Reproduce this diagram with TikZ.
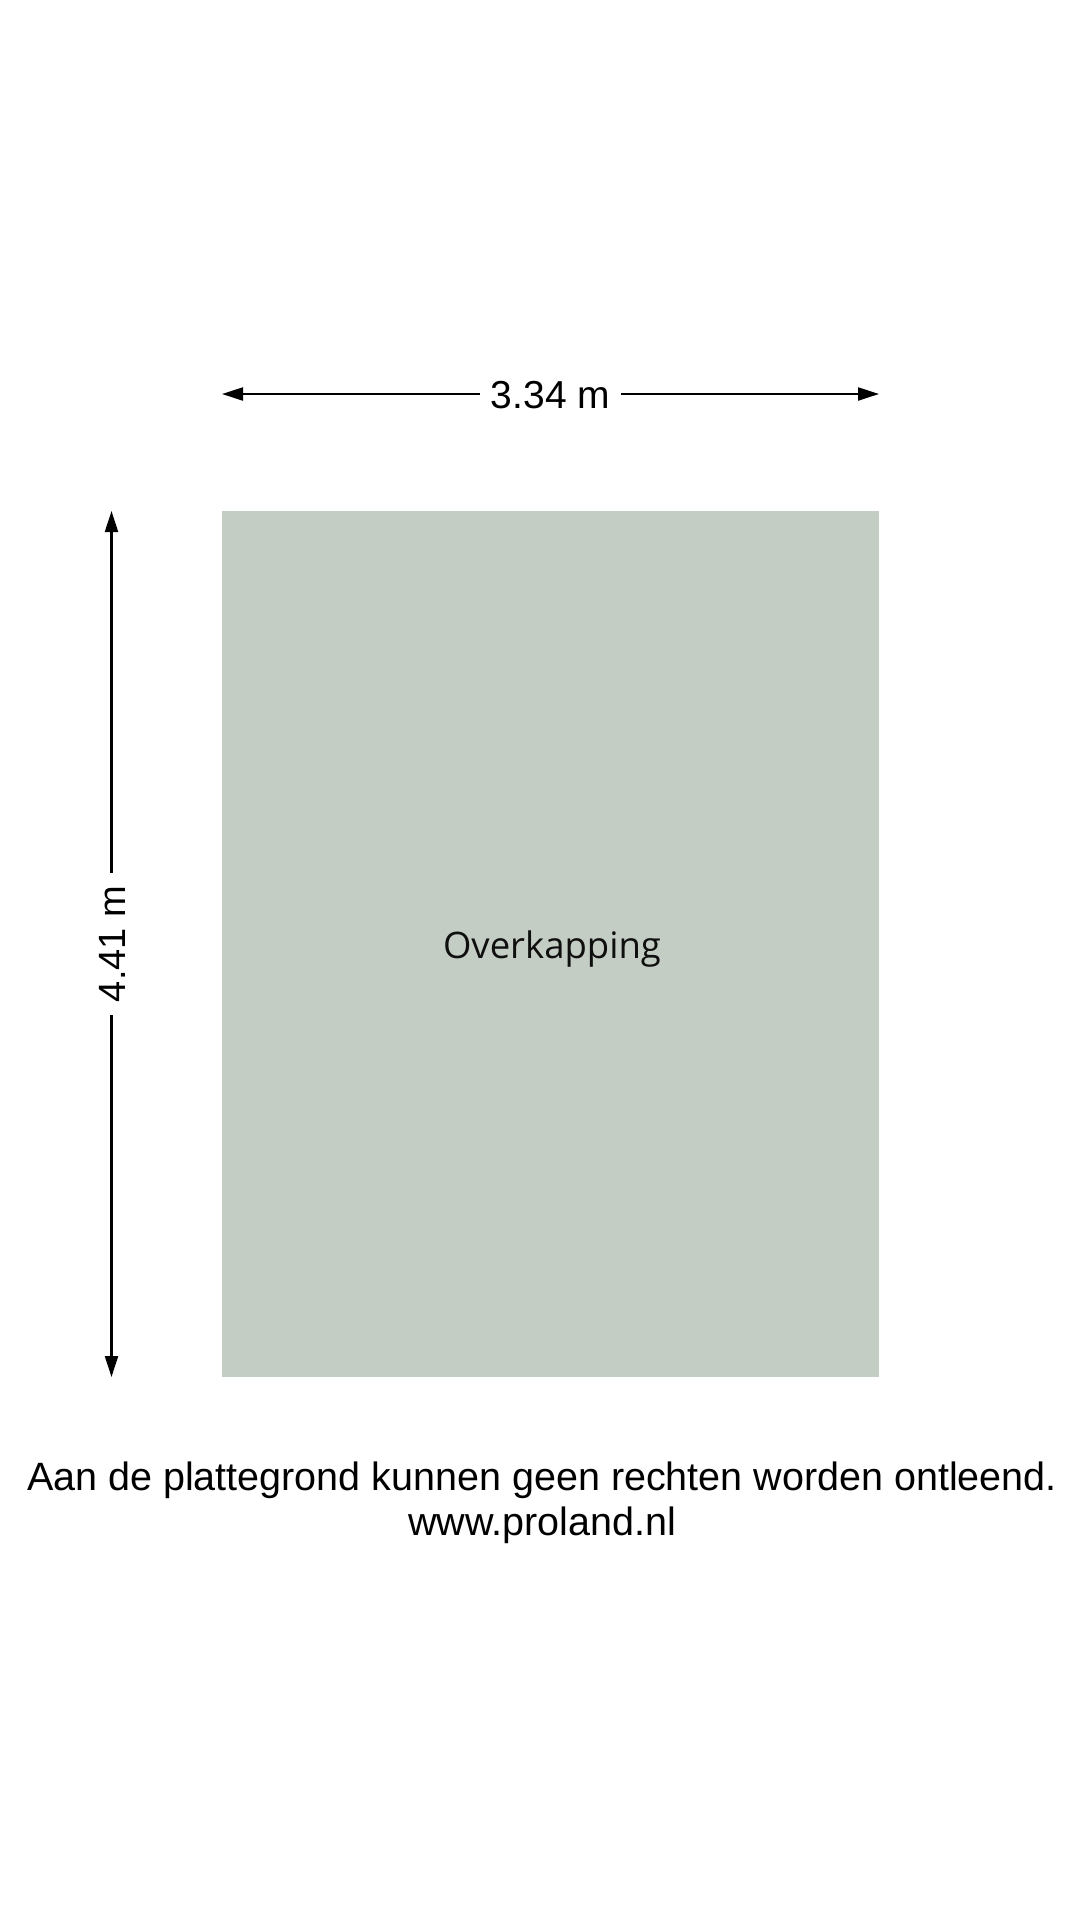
\documentclass[tikz,border=0pt]{standalone}
\usepackage{fontspec}
\setmainfont{Liberation Sans}
\newfontfamily\roomfont{Open Sans}
\usetikzlibrary{arrows.meta}
\definecolor{roomfill}{RGB}{196,205,196}
\definecolor{inktext}{RGB}{15,15,15}
\tikzset{
  dimline/.style={line width=2.2pt, draw=black, -{Triangle[length=21pt,width=13pt]}},
  dimlabel/.style={inner ysep=0pt, text height=28pt, text depth=0pt, font=\fontsize{39}{46}\selectfont},
  roombox/.style={fill=roomfill, draw=none, inner sep=0pt, minimum width=657pt, minimum height=866pt},
  roomlabel/.style={inner sep=0pt, anchor=base, text=inktext, font=\roomfont\fontsize{36.5}{42}\selectfont},
  footer/.style={inner sep=0pt, anchor=base, font=\fontsize{39.5}{46}\selectfont}
}
\begin{document}
\begin{tikzpicture}[x=1pt,y=-1pt]
\useasboundingbox (0,0) rectangle (1080,1920);
% room
\node[roombox] (room) at (550.5,944) {};
\node[roomlabel] (roomname) at (552,958) {Overkapping};
% horizontal dimension
\coordinate (wl) at (222,394);
\coordinate (wr) at (879,394);
\node[dimlabel, inner xsep=11pt] (wlab) at (550.5,394) {3.34 m};
\draw[dimline] (wlab.west) -- (wl);
\draw[dimline] (wlab.east) -- (wr);
% vertical dimension
\coordinate (ht) at (111.5,511);
\coordinate (hb) at (111.5,1377);
\node[dimlabel, inner xsep=13pt, rotate=90, font=\fontsize{38}{46}\selectfont, text height=27pt] (hlab) at (111.5,944) {4.41 m};
\draw[dimline] (hlab.east) -- (ht);
\draw[dimline] (hlab.west) -- (hb);
% footer
\node[footer] (disclaimer) at (542,1490) {Aan de plattegrond kunnen geen rechten worden ontleend.};
\node[footer] (site) at (542,1535) {www.proland.nl};
\end{tikzpicture}
\end{document}
